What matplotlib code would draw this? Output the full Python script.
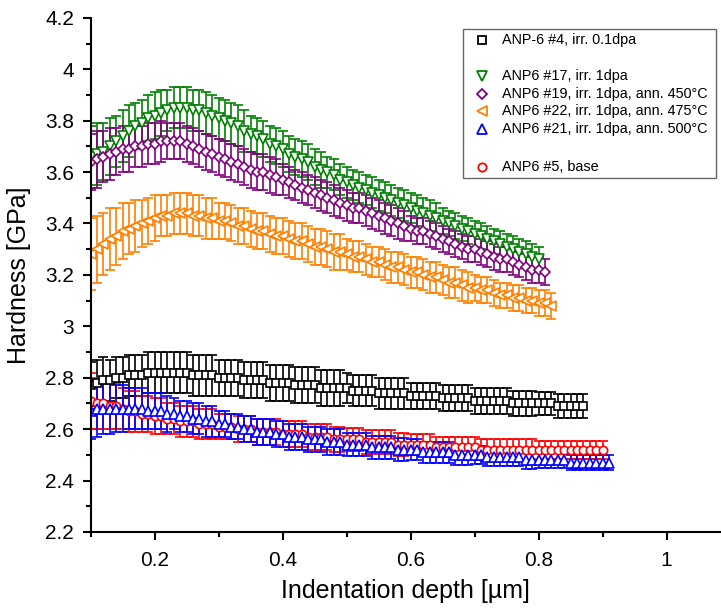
import matplotlib
matplotlib.use("Agg")
import matplotlib.pyplot as plt
from matplotlib.ticker import MultipleLocator
from matplotlib.patches import Rectangle

plt.rcParams['font.family'] = ['Liberation Sans', 'DejaVu Sans']

# indentation depth grid shared by all series (um)
depth = [0.10, 0.11, 0.12, 0.13, 0.14, 0.15, 0.16, 0.17, 0.18, 0.19,
         0.20, 0.21, 0.22, 0.23, 0.24, 0.25, 0.26, 0.27, 0.28, 0.29,
         0.30, 0.31, 0.32, 0.33, 0.34, 0.35, 0.36, 0.37, 0.38, 0.39,
         0.40, 0.41, 0.42, 0.43, 0.44, 0.45, 0.46, 0.47, 0.48, 0.49,
         0.50, 0.51, 0.52, 0.53, 0.54, 0.55, 0.56, 0.57, 0.58, 0.59,
         0.60, 0.61, 0.62, 0.63, 0.64, 0.65, 0.66, 0.67, 0.68, 0.69,
         0.70, 0.71, 0.72, 0.73, 0.74, 0.75, 0.76, 0.77, 0.78, 0.79,
         0.80, 0.81, 0.82, 0.83, 0.84, 0.85, 0.86, 0.87, 0.88, 0.89,
         0.90, 0.91]

# ANP-6 #4, irr. 0.1dpa
h_anp6_4 = [2.77, 2.78, 2.79, 2.79, 2.80, 2.80, 2.81, 2.81, 2.81, 2.82,
            2.82, 2.82, 2.82, 2.82, 2.82, 2.82, 2.81, 2.81, 2.81, 2.81,
            2.80, 2.80, 2.80, 2.80, 2.79, 2.79, 2.79, 2.79, 2.78, 2.78,
            2.78, 2.78, 2.77, 2.77, 2.77, 2.77, 2.76, 2.76, 2.76, 2.76,
            2.76, 2.75, 2.75, 2.75, 2.75, 2.74, 2.74, 2.74, 2.74, 2.74,
            2.73, 2.73, 2.73, 2.73, 2.73, 2.72, 2.72, 2.72, 2.72, 2.72,
            2.71, 2.71, 2.71, 2.71, 2.71, 2.71, 2.70, 2.70, 2.70, 2.70,
            2.70, 2.70, 2.70, 2.69, 2.69, 2.69, 2.69, 2.69]
e_anp6_4 = [0.09, 0.09, 0.09, 0.08, 0.08, 0.08, 0.08, 0.08, 0.08, 0.08,
            0.08, 0.08, 0.08, 0.08, 0.08, 0.08, 0.08, 0.08, 0.08, 0.08,
            0.07, 0.07, 0.07, 0.07, 0.07, 0.07, 0.07, 0.07, 0.07, 0.07,
            0.07, 0.07, 0.07, 0.07, 0.07, 0.07, 0.07, 0.07, 0.07, 0.07,
            0.06, 0.06, 0.06, 0.06, 0.06, 0.06, 0.06, 0.06, 0.06, 0.06,
            0.05, 0.05, 0.05, 0.05, 0.05, 0.05, 0.05, 0.05, 0.05, 0.05,
            0.05, 0.05, 0.05, 0.05, 0.05, 0.05, 0.05, 0.05, 0.05, 0.05,
            0.045, 0.045, 0.045, 0.045, 0.045, 0.045, 0.045, 0.045]

# ANP6 #17, irr. 1dpa
h_anp6_17 = [3.66, 3.67, 3.68, 3.70, 3.72, 3.74, 3.76, 3.78, 3.79, 3.81,
             3.82, 3.83, 3.84, 3.85, 3.85, 3.85, 3.84, 3.84, 3.83, 3.82,
             3.81, 3.80, 3.79, 3.78, 3.76, 3.75, 3.74, 3.73, 3.71, 3.70,
             3.69, 3.67, 3.66, 3.65, 3.64, 3.62, 3.61, 3.60, 3.59, 3.57,
             3.56, 3.55, 3.54, 3.53, 3.52, 3.51, 3.50, 3.49, 3.48, 3.47,
             3.46, 3.45, 3.44, 3.43, 3.42, 3.41, 3.40, 3.39, 3.38, 3.37,
             3.36, 3.35, 3.34, 3.33, 3.32, 3.31, 3.30, 3.29, 3.28, 3.27,
             3.26]
e_anp6_17 = [0.12, 0.12, 0.11, 0.11, 0.10, 0.10, 0.10, 0.09, 0.09, 0.09,
             0.09, 0.09, 0.08, 0.08, 0.08, 0.08, 0.08, 0.08, 0.08, 0.08,
             0.08, 0.08, 0.08, 0.08, 0.08, 0.07, 0.07, 0.07, 0.07, 0.07,
             0.07, 0.07, 0.07, 0.07, 0.07, 0.07, 0.07, 0.06, 0.06, 0.06,
             0.06, 0.06, 0.06, 0.06, 0.06, 0.06, 0.06, 0.06, 0.06, 0.06,
             0.06, 0.06, 0.06, 0.06, 0.06, 0.05, 0.05, 0.05, 0.05, 0.05,
             0.05, 0.05, 0.05, 0.05, 0.05, 0.05, 0.05, 0.05, 0.05, 0.05,
             0.05]

# ANP6 #19, irr. 1dpa, ann. 450C
h_anp6_19 = [3.64, 3.65, 3.66, 3.67, 3.68, 3.69, 3.69, 3.70, 3.70, 3.71,
             3.71, 3.72, 3.72, 3.72, 3.72, 3.71, 3.70, 3.69, 3.68, 3.67,
             3.66, 3.65, 3.64, 3.63, 3.62, 3.61, 3.60, 3.60, 3.59, 3.58,
             3.57, 3.56, 3.55, 3.54, 3.53, 3.52, 3.51, 3.50, 3.49, 3.48,
             3.47, 3.46, 3.46, 3.45, 3.44, 3.43, 3.42, 3.41, 3.40, 3.39,
             3.38, 3.37, 3.37, 3.36, 3.35, 3.34, 3.33, 3.32, 3.31, 3.30,
             3.30, 3.29, 3.28, 3.27, 3.26, 3.26, 3.25, 3.24, 3.23, 3.22,
             3.22, 3.21]
e_anp6_19 = [0.11, 0.11, 0.10, 0.10, 0.09, 0.09, 0.09, 0.08, 0.08, 0.08,
             0.08, 0.08, 0.07, 0.07, 0.07, 0.07, 0.07, 0.07, 0.07, 0.07,
             0.07, 0.07, 0.07, 0.07, 0.07, 0.07, 0.07, 0.07, 0.07, 0.07,
             0.06, 0.06, 0.06, 0.06, 0.06, 0.06, 0.06, 0.06, 0.06, 0.06,
             0.06, 0.06, 0.06, 0.06, 0.06, 0.06, 0.06, 0.06, 0.06, 0.06,
             0.05, 0.05, 0.05, 0.05, 0.05, 0.05, 0.05, 0.05, 0.05, 0.05,
             0.05, 0.05, 0.05, 0.05, 0.05, 0.05, 0.05, 0.05, 0.05, 0.05,
             0.05, 0.05]

# ANP6 #22, irr. 1dpa, ann. 475C
h_anp6_22 = [3.28, 3.30, 3.32, 3.34, 3.35, 3.37, 3.38, 3.39, 3.40, 3.41,
             3.42, 3.43, 3.43, 3.44, 3.44, 3.44, 3.43, 3.43, 3.42, 3.42,
             3.41, 3.41, 3.40, 3.39, 3.39, 3.38, 3.37, 3.37, 3.36, 3.35,
             3.35, 3.34, 3.33, 3.33, 3.32, 3.31, 3.31, 3.30, 3.29, 3.29,
             3.28, 3.27, 3.27, 3.26, 3.25, 3.25, 3.24, 3.23, 3.23, 3.22,
             3.21, 3.21, 3.20, 3.19, 3.19, 3.18, 3.17, 3.17, 3.16, 3.15,
             3.15, 3.14, 3.14, 3.13, 3.12, 3.12, 3.11, 3.11, 3.10, 3.10,
             3.09, 3.09, 3.08]
e_anp6_22 = [0.14, 0.13, 0.12, 0.12, 0.11, 0.11, 0.10, 0.10, 0.09, 0.09,
             0.09, 0.08, 0.08, 0.08, 0.08, 0.08, 0.08, 0.08, 0.08, 0.08,
             0.07, 0.07, 0.07, 0.07, 0.07, 0.07, 0.07, 0.07, 0.07, 0.07,
             0.07, 0.07, 0.07, 0.07, 0.07, 0.07, 0.07, 0.07, 0.07, 0.07,
             0.06, 0.06, 0.06, 0.06, 0.06, 0.06, 0.06, 0.06, 0.06, 0.06,
             0.06, 0.06, 0.06, 0.06, 0.06, 0.06, 0.06, 0.06, 0.06, 0.06,
             0.05, 0.05, 0.05, 0.05, 0.05, 0.05, 0.05, 0.05, 0.05, 0.05,
             0.05, 0.05, 0.05]

# ANP6 #21, irr. 1dpa, ann. 500C
h_anp6_21 = [2.67, 2.68, 2.68, 2.68, 2.68, 2.68, 2.68, 2.68, 2.68, 2.67,
             2.67, 2.67, 2.66, 2.66, 2.65, 2.65, 2.64, 2.64, 2.63, 2.63,
             2.62, 2.62, 2.61, 2.61, 2.60, 2.60, 2.59, 2.59, 2.59, 2.58,
             2.58, 2.57, 2.57, 2.57, 2.56, 2.56, 2.56, 2.55, 2.55, 2.55,
             2.54, 2.54, 2.54, 2.54, 2.53, 2.53, 2.53, 2.53, 2.52, 2.52,
             2.52, 2.52, 2.51, 2.51, 2.51, 2.51, 2.51, 2.50, 2.50, 2.50,
             2.50, 2.50, 2.49, 2.49, 2.49, 2.49, 2.49, 2.49, 2.48, 2.48,
             2.48, 2.48, 2.48, 2.48, 2.48, 2.47, 2.47, 2.47, 2.47, 2.47,
             2.47, 2.47]
e_anp6_21 = [0.11, 0.11, 0.10, 0.10, 0.09, 0.09, 0.08, 0.08, 0.08, 0.07,
             0.07, 0.07, 0.07, 0.06, 0.06, 0.06, 0.06, 0.06, 0.06, 0.06,
             0.05, 0.05, 0.05, 0.05, 0.05, 0.05, 0.05, 0.05, 0.05, 0.05,
             0.05, 0.05, 0.05, 0.05, 0.05, 0.05, 0.05, 0.05, 0.05, 0.05,
             0.045, 0.045, 0.045, 0.045, 0.045, 0.045, 0.045, 0.045, 0.045, 0.045,
             0.04, 0.04, 0.04, 0.04, 0.04, 0.04, 0.04, 0.04, 0.04, 0.04,
             0.035, 0.035, 0.035, 0.035, 0.035, 0.035, 0.035, 0.035, 0.035, 0.035,
             0.03, 0.03, 0.03, 0.03, 0.03, 0.03, 0.03, 0.03, 0.03, 0.03,
             0.03, 0.03]

# ANP6 #5, base
h_anp6_5 = [2.71, 2.70, 2.70, 2.69, 2.69, 2.68, 2.67, 2.67, 2.66, 2.66,
            2.65, 2.65, 2.64, 2.64, 2.63, 2.63, 2.63, 2.62, 2.62, 2.62,
            2.61, 2.61, 2.61, 2.60, 2.60, 2.60, 2.59, 2.59, 2.59, 2.59,
            2.58, 2.58, 2.58, 2.58, 2.57, 2.57, 2.57, 2.57, 2.56, 2.56,
            2.56, 2.56, 2.56, 2.55, 2.55, 2.55, 2.55, 2.55, 2.54, 2.54,
            2.54, 2.54, 2.54, 2.54, 2.53, 2.53, 2.53, 2.53, 2.53, 2.53,
            2.53, 2.52, 2.52, 2.52, 2.52, 2.52, 2.52, 2.52, 2.52, 2.52,
            2.52, 2.52, 2.52, 2.52, 2.52, 2.52, 2.52, 2.52, 2.52, 2.52,
            2.52]
e_anp6_5 = [0.11, 0.10, 0.10, 0.09, 0.09, 0.08, 0.08, 0.08, 0.07, 0.07,
            0.07, 0.07, 0.06, 0.06, 0.06, 0.06, 0.06, 0.06, 0.06, 0.06,
            0.05, 0.05, 0.05, 0.05, 0.05, 0.05, 0.05, 0.05, 0.05, 0.05,
            0.05, 0.05, 0.05, 0.05, 0.05, 0.05, 0.05, 0.05, 0.05, 0.05,
            0.045, 0.045, 0.045, 0.045, 0.045, 0.045, 0.045, 0.045, 0.045, 0.045,
            0.04, 0.04, 0.04, 0.04, 0.04, 0.04, 0.04, 0.04, 0.04, 0.04,
            0.04, 0.04, 0.04, 0.04, 0.04, 0.04, 0.04, 0.04, 0.04, 0.04,
            0.035, 0.035, 0.035, 0.035, 0.035, 0.035, 0.035, 0.035, 0.035, 0.035,
            0.035]

labels = ["ANP-6 #4, irr. 0.1dpa", "ANP6 #17, irr. 1dpa",
          "ANP6 #19, irr. 1dpa, ann. 450°C", "ANP6 #22, irr. 1dpa, ann. 475°C",
          "ANP6 #21, irr. 1dpa, ann. 500°C", "ANP6 #5, base"]

# (values, errors, marker, marker size, colour, label), in drawing order
series = [
    (h_anp6_4, e_anp6_4, "s", 5.5, "black", labels[0]),
    (h_anp6_17, e_anp6_17, "v", 7, "#008000", labels[1]),
    (h_anp6_19, e_anp6_19, "D", 5.5, "#800080", labels[2]),
    (h_anp6_22, e_anp6_22, "<", 7, "#FF8000", labels[3]),
    (h_anp6_5, e_anp6_5, "o", 6, "#FF0000", labels[5]),
    (h_anp6_21, e_anp6_21, "^", 7, "#0000FF", labels[4]),
]

fig = plt.figure(figsize=(7.21, 6.15), dpi=100)
ax = fig.add_axes([0.1258, 0.135, 0.8742, 0.836])

for h, e, m, s, c, lab in series:
    x = depth[:len(h)]
    ax.errorbar(x, h, yerr=e, fmt=m, color=c, ecolor=c, mfc="white", mec=c,
                ms=s, mew=1.2, elinewidth=1.2, capsize=3.5, capthick=1.2)

ax.set_xlim(0.1, 1.085)
ax.set_ylim(2.2, 4.2)
ax.xaxis.set_major_locator(MultipleLocator(0.2))
ax.xaxis.set_minor_locator(MultipleLocator(0.1))
ax.yaxis.set_major_locator(MultipleLocator(0.2))
ax.yaxis.set_minor_locator(MultipleLocator(0.1))
ax.xaxis.set_major_formatter(plt.FuncFormatter(lambda v, p: f"{v:g}"))
ax.yaxis.set_major_formatter(plt.FuncFormatter(lambda v, p: f"{v:g}"))
ax.spines["top"].set_visible(False)
ax.spines["right"].set_visible(False)
ax.spines["left"].set_linewidth(1.5)
ax.spines["bottom"].set_linewidth(1.5)
ax.tick_params(which="major", direction="out", length=6, width=1.5, labelsize=15)
ax.tick_params(axis="x", which="major", pad=8)
ax.tick_params(axis="y", which="major", pad=6)
ax.tick_params(which="minor", direction="out", length=3.5, width=1.5)
ax.set_xlabel("Indentation depth [µm]", fontsize=18, labelpad=6)
ax.set_ylabel("Hardness [GPa]", fontsize=18, labelpad=10)

# legend box drawn by hand to keep the empty rows
ax.add_patch(Rectangle((0.591, 0.689), 0.401, 0.290, transform=ax.transAxes,
                       fill=False, edgecolor="#666666", lw=1.0, clip_on=False, zorder=5))
leg_rows = [(0.957, "s", 5.5, "black", labels[0]),
            (0.887, "v", 7, "#008000", labels[1]),
            (0.852, "D", 5.5, "#800080", labels[2]),
            (0.818, "<", 7, "#FF8000", labels[3]),
            (0.784, "^", 7, "#0000FF", labels[4]),
            (0.710, "o", 6, "#FF0000", labels[5])]
for yy, m, s, c, lab in leg_rows:
    ax.plot([0.621], [yy], marker=m, color=c, mfc="white", mec=c, ms=s, mew=1.3,
            transform=ax.transAxes, clip_on=False, zorder=6)
    ax.text(0.652, yy, lab, transform=ax.transAxes, fontsize=10.4, va="center", zorder=6)

fig.savefig("out.png", dpi=100)
